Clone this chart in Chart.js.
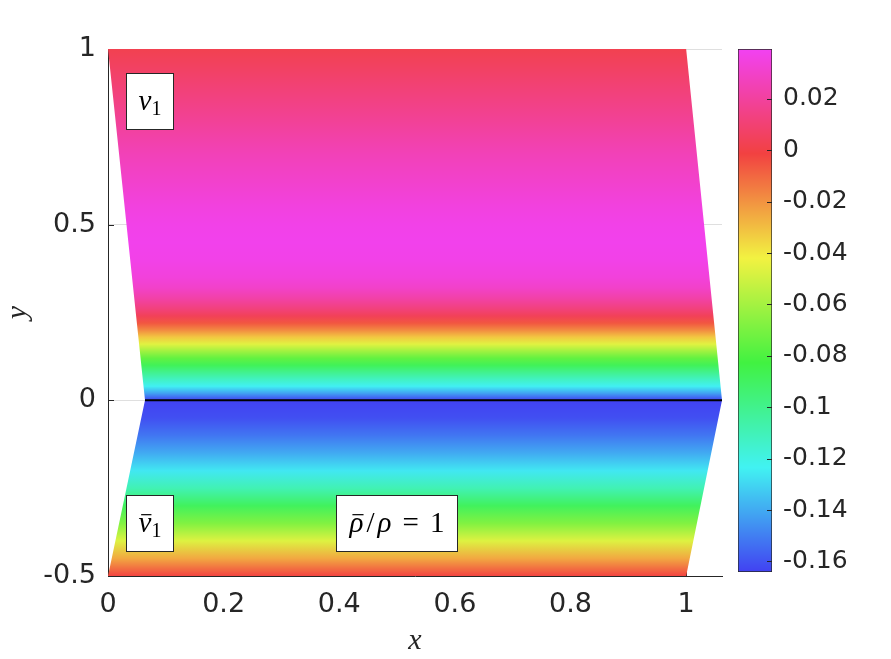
<!DOCTYPE html>
<html><head><meta charset="utf-8">
<script src="https://cdn.jsdelivr.net/npm/chart.js@4/dist/chart.umd.min.js"></script>
<style>
html,body{margin:0;padding:0;background:#fff;}
#wrap{position:relative;width:891px;height:659px;}
canvas{position:absolute;left:0;top:0;}
</style></head><body>
<div id="wrap"><canvas id="main" width="891" height="659"></canvas><canvas id="cbar" width="891" height="659"></canvas></div>
<script>
// ---- data ----
// outline of the coloured domain (x, y)
const outlineX = [0, 0.064, 0, 1, 1.062, 1];
const outlineY = [1, 0, -0.5, -0.5, 0, 1];
// interface line y = 0
const interfaceX = [0.064, 1.062];
const interfaceY = [0, 0];
// field v1 as a function of y (horizontal bands)
const profileY = [1.00, 0.95, 0.90, 0.85, 0.80, 0.75, 0.70, 0.65, 0.60, 0.55, 0.50, 0.45, 0.40, 0.35, 0.32, 0.29, 0.26, 0.24, 0.22, 0.20, 0.18, 0.16, 0.14, 0.12, 0.10, 0.08, 0.06, 0.04, 0.02, 0.00, -0.05, -0.10, -0.15, -0.20, -0.25, -0.30, -0.35, -0.40, -0.45, -0.50];
const profileV = [0.002, 0.006, 0.010, 0.014, 0.018, 0.022, 0.026, 0.029, 0.032, 0.035, 0.037, 0.038, 0.037, 0.034, 0.030, 0.022, 0.012, 0.004, -0.006, -0.018, -0.032, -0.046, -0.061, -0.075, -0.088, -0.100, -0.112, -0.124, -0.142, -0.164, -0.161, -0.152, -0.140, -0.126, -0.109, -0.089, -0.068, -0.047, -0.025, -0.002];
// colour limits and ticks
const cLimits = [-0.1641, 0.0394];
const xTicks = [0, 0.2, 0.4, 0.6, 0.8, 1];
const yTicks = [-0.5, 0, 0.5, 1];
const cTicks = [-0.16, -0.14, -0.12, -0.1, -0.08, -0.06, -0.04, -0.02, 0, 0.02];
const boxTexts = ['v₁', 'v̄₁', 'ρ̄/ρ = 1'];

// ---- styling / layout ----
const INK = '#262626';
const TICK_FONT = {family: '"DejaVu Sans", sans-serif', size: 27};
const CB_FONT = {family: '"DejaVu Sans", sans-serif', size: 25};
const MATH = '"Liberation Serif", "DejaVu Serif", serif';
const annotations = [
  {text: boxTexts[0], x0: 0.031, x1: 0.112, y0: 0.772, y1: 0.932, tokens: [{s:'v', it:true}, {s:'1', sub:true}]},
  {text: boxTexts[1], x0: 0.031, x1: 0.112, y0: -0.4302, y1: -0.2707, tokens: [{s:'v', it:true, bar:true}, {s:'1', sub:true}]},
  {text: boxTexts[2], x0: 0.3945, x1: 0.6038, y0: -0.4302, y1: -0.2707, tokens: [{s:'ρ', it:true, bar:true}, {s:'/', pad:3}, {s:'ρ', it:true}, {s:'=', pad:11}, {s:'1'}]}
];

function cmap(v) {
  let t = (v - cLimits[0]) / (cLimits[1] - cLimits[0]);
  t = Math.max(0, Math.min(1, t));
  let h = 240 - 300 * t; if (h < 0) h += 360;
  const s = 0.73, val = 0.95;
  const c = val * s, hp = h / 60, x = c * (1 - Math.abs(hp % 2 - 1)), m = val - c;
  let r, g, b;
  if (hp < 1) [r, g, b] = [c, x, 0];
  else if (hp < 2) [r, g, b] = [x, c, 0];
  else if (hp < 3) [r, g, b] = [0, c, x];
  else if (hp < 4) [r, g, b] = [0, x, c];
  else if (hp < 5) [r, g, b] = [x, 0, c];
  else [r, g, b] = [c, 0, x];
  return `rgb(${Math.round((r + m) * 255)},${Math.round((g + m) * 255)},${Math.round((b + m) * 255)})`;
}

function fieldGradient(ctx) {
  const chart = ctx.chart;
  if (!chart.chartArea) return 'rgba(0,0,0,0)';
  const ys = chart.scales.y;
  const top = ys.getPixelForValue(profileY[0]);
  const bot = ys.getPixelForValue(profileY[profileY.length - 1]);
  const g = chart.ctx.createLinearGradient(0, top, 0, bot);
  profileY.forEach((y, i) => {
    const off = (ys.getPixelForValue(y) - top) / (bot - top);
    g.addColorStop(Math.max(0, Math.min(1, off)), cmap(profileV[i]));
  });
  return g;
}

function drawMath(c, tokens, cx, base, size) {
  const sub = Math.round(size * 0.7);
  const fontOf = t => `${t.it ? 'italic ' : ''}${t.sub ? sub : size}px ${MATH}`;
  let w = 0;
  tokens.forEach(t => { c.font = fontOf(t); t.w = c.measureText(t.s).width; w += t.w + 2 * (t.pad || 0); });
  let x = cx - w / 2;
  c.fillStyle = '#000'; c.textBaseline = 'alphabetic'; c.textAlign = 'left';
  tokens.forEach(t => {
    c.font = fontOf(t);
    x += (t.pad || 0);
    c.fillText(t.s, x, base + (t.sub ? size * 0.2 : 0));
    if (t.bar) {
      c.strokeStyle = '#000'; c.lineWidth = 1.2;
      c.beginPath(); c.moveTo(x + t.w * 0.2, base - size * 0.58); c.lineTo(x + t.w * 1.0, base - size * 0.58); c.stroke();
    }
    x += t.w + (t.pad || 0);
  });
}

const mainPlugin = {
  id: 'mainDecor',
  beforeDatasetsDraw(chart) {
    const c = chart.ctx, xs = chart.scales.x, ys = chart.scales.y, a = chart.chartArea;
    c.save(); c.strokeStyle = INK; c.lineWidth = 1;
    yTicks.forEach(v => { const p = Math.round(ys.getPixelForValue(v)) + 0.5; c.beginPath(); c.moveTo(a.left, p); c.lineTo(a.left + 6, p); c.stroke(); });
    xTicks.forEach(v => { const p = Math.round(xs.getPixelForValue(v)) + 0.5; c.beginPath(); c.moveTo(p, a.bottom); c.lineTo(p, a.bottom - 6); c.stroke(); });
    c.restore();
  },
  afterDatasetsDraw(chart) {
    const c = chart.ctx, xs = chart.scales.x, ys = chart.scales.y;
    c.save();
    annotations.forEach(an => {
      const l = Math.round(xs.getPixelForValue(an.x0)) + 0.5, r = Math.round(xs.getPixelForValue(an.x1)) + 0.5;
      const t = Math.round(ys.getPixelForValue(an.y1)) + 0.5, b = Math.round(ys.getPixelForValue(an.y0)) + 0.5;
      c.fillStyle = '#fff'; c.fillRect(l, t, r - l, b - t);
      c.strokeStyle = INK; c.lineWidth = 1; c.strokeRect(l, t, r - l, b - t);
      drawMath(c, an.tokens, (l + r) / 2, (t + b) / 2 + 8, 29);
    });
    c.restore();
  }
};

new Chart(document.getElementById('main'), {
  type: 'scatter',
  data: {
    datasets: [
      {
        data: outlineX.map((x, i) => ({x, y: outlineY[i]})),
        showLine: true, fill: 'shape', tension: 0, order: 2,
        borderWidth: 0, borderColor: 'rgba(0,0,0,0)', pointRadius: 0,
        backgroundColor: fieldGradient
      },
      {
        data: interfaceX.map((x, i) => ({x, y: interfaceY[i]})),
        showLine: true, fill: false, order: 1, borderColor: '#000', borderWidth: 2, pointRadius: 0
      }
    ]
  },
  options: {
    responsive: false, animation: false, events: [],
    layout: {padding: {left: 0, top: 49, right: 169, bottom: 0}},
    plugins: {legend: {display: false}, tooltip: {enabled: false}},
    scales: {
      x: {
        type: 'linear', position: 'bottom', min: 0, max: 1.062,
        afterFit: s => { s.height = 83; },
        afterBuildTicks: s => { s.ticks = xTicks.map(v => ({value: v})); },
        grid: {display: false, drawTicks: false, z: -1},
        border: {display: true, color: INK, width: 1},
        ticks: {color: INK, font: TICK_FONT, padding: 13, maxRotation: 0, autoSkip: false, callback: v => String(v)},
        title: {display: true, text: 'x', color: INK, font: {family: MATH, size: 30, style: 'italic'}, padding: {top: 0, bottom: 0}}
      },
      y: {
        type: 'linear', position: 'left', min: -0.5, max: 1,
        afterFit: s => { s.width = 108; },
        afterBuildTicks: s => { s.ticks = yTicks.map(v => ({value: v})); },
        grid: {display: true, color: '#dfdfdf', lineWidth: 1, drawTicks: false, z: -1},
        border: {display: true, color: INK, width: 1},
        ticks: {color: INK, font: TICK_FONT, padding: 12, autoSkip: false, callback: v => String(v)},
        title: {display: true, text: 'y', color: INK, font: {family: MATH, size: 30, style: 'italic'}, padding: {top: 0, bottom: 0}}
      }
    }
  },
  plugins: [mainPlugin]
});

// ---- colour bar ----
const cbPlugin = {
  id: 'cbTicks',
  afterDatasetsDraw(chart) {
    const c = chart.ctx, ys = chart.scales.y, a = chart.chartArea;
    c.save(); c.strokeStyle = INK; c.lineWidth = 1;
    cTicks.forEach(v => { const p = Math.round(ys.getPixelForValue(v)) + 0.5; c.beginPath(); c.moveTo(a.right - 5, p); c.lineTo(a.right, p); c.stroke(); });
    c.restore();
  }
};
new Chart(document.getElementById('cbar'), {
  type: 'bar',
  data: {
    labels: [''],
    datasets: [{
      data: [cLimits],
      barPercentage: 1, categoryPercentage: 1,
      borderColor: INK, borderWidth: 1, borderSkipped: false,
      backgroundColor: ctx => {
        const chart = ctx.chart;
        if (!chart.chartArea) return 'rgba(0,0,0,0)';
        const ys = chart.scales.y;
        const g = chart.ctx.createLinearGradient(0, ys.getPixelForValue(cLimits[1]), 0, ys.getPixelForValue(cLimits[0]));
        for (let i = 0; i <= 60; i++) g.addColorStop(i / 60, cmap(cLimits[1] - (cLimits[1] - cLimits[0]) * i / 60));
        return g;
      }
    }]
  },
  options: {
    responsive: false, animation: false, events: [],
    layout: {padding: {left: 738, top: 49, right: 0, bottom: 87}},
    plugins: {legend: {display: false}, tooltip: {enabled: false}},
    scales: {
      x: {display: false},
      y: {
        position: 'right', min: cLimits[0], max: cLimits[1],
        afterFit: s => { s.width = 119; },
        afterBuildTicks: s => { s.ticks = cTicks.map(v => ({value: v})); },
        grid: {display: false, drawTicks: false},
        border: {display: false},
        ticks: {color: INK, font: CB_FONT, padding: 11, autoSkip: false, callback: v => String(v)}
      }
    }
  },
  plugins: [cbPlugin]
});
</script>
</body></html>
